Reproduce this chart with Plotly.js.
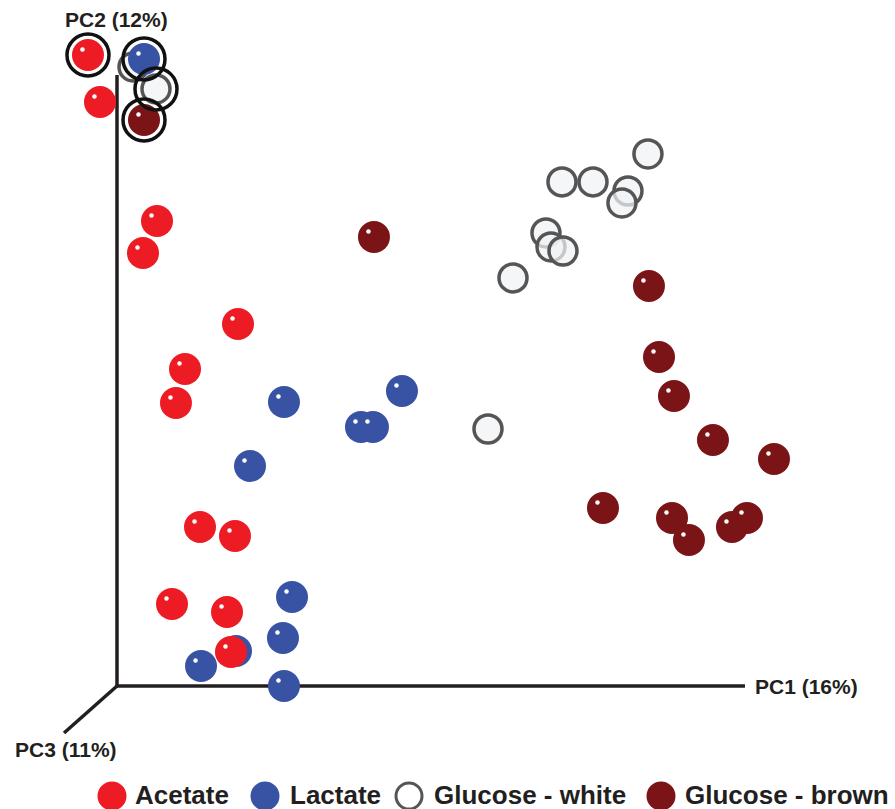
<!DOCTYPE html>
<html>
<head>
<meta charset="utf-8">
<script src="https://cdn.plot.ly/plotly-3.0.1.min.js"></script>
<style>html,body{margin:0;padding:0;background:#fff;}#chart{width:895px;height:809px;}</style>
</head>
<body>
<div id="chart"></div>
<script>
// ---- Data (PC1, PC2 scores; PC3 shown by perspective) ----
const groupNames = ["Acetate", "Lactate", "Glucose - white", "Glucose - brown"];

const acetatePC1 = [-4.62, -2.71, 6.37, 4.14, 19.27, 10.83, 9.39, 13.22, 18.79, 8.76, 17.52, 18.15];
const acetatePC2 = [103.27, 95.58, 76.10, 70.87, 59.25, 51.88, 46.32, 26.02, 24.55, 13.42, 12.11, 5.56];

const lactatePC1 = [4.30, 26.59, 45.38, 38.85, 40.76, 21.18, 27.87, 26.43, 18.95, 13.38, 26.59];
const lactatePC2 = [102.62, 46.48, 48.28, 42.39, 42.39, 36.01, 14.57, 7.86, 5.73, 3.27, 0.00];

const whitePC1 = [2.55, 6.21, 84.55, 70.86, 75.80, 81.37, 80.41, 68.31, 69.11, 71.02, 63.06, 59.08];
const whitePC2 = [101.31, 97.71, 87.07, 82.49, 82.49, 81.01, 79.05, 74.14, 71.85, 71.19, 66.78, 42.06];

const brownPC1 = [4.30, 40.92, 84.71, 86.31, 88.69, 94.90, 104.62, 77.39, 88.38, 91.08, 100.32, 97.93];
const brownPC2 = [92.64, 73.49, 65.47, 53.85, 47.46, 40.26, 37.15, 29.13, 27.50, 23.90, 27.50, 26.02];

// highlighted (circled) samples: index into each group
const ringAcetate = [0], ringLactate = [0], ringWhite = [1], ringBrown = [0];

const axisLabels = ["PC1 (16%)", "PC2 (12%)", "PC3 (11%)"];

// ---- Styling ----
const colors = ["#ED1C24", "#3953A4", "#EEF0F3", "#7B1416"];
const W = 895, H = 809;
const XR = [-18.63, 123.89], YR = [-20.13, 112.27];
const pxX = (W) / (XR[1] - XR[0]);
const pxY = (H) / (YR[1] - YR[0]);
const hlDx = -5.5 / pxX, hlDy = 5.5 / pxY;
const SZ = 32;

function sphere(x, y, color, name) {
  return {
    type: "scatter", mode: "markers", x: x, y: y, name: name, hoverinfo: "skip",
    marker: {size: SZ, color: color, line: {width: 0}}
  };
}
function highlight(x, y) {
  return {
    type: "scatter", mode: "markers", hoverinfo: "skip",
    x: x.map(v => v + hlDx), y: y.map(v => v + hlDy),
    marker: {size: 4.5, color: "#ffffff", line: {width: 0}}
  };
}

const traces = [];
traces.push({
  type: "scatter", mode: "markers", x: whitePC1, y: whitePC2, name: groupNames[2], hoverinfo: "skip",
  marker: {size: 28, color: "rgba(240,242,245,0.72)", line: {width: 3.5, color: "#555555"}}
});
traces.push(sphere(lactatePC1, lactatePC2, colors[1], groupNames[1]));
traces.push(highlight(lactatePC1, lactatePC2));
traces.push(sphere(acetatePC1, acetatePC2, colors[0], groupNames[0]));
traces.push(highlight(acetatePC1, acetatePC2));
traces.push(sphere(brownPC1, brownPC2, colors[3], groupNames[3]));
traces.push(highlight(brownPC1, brownPC2));

const ringX = [].concat(ringAcetate.map(i => acetatePC1[i]), ringLactate.map(i => lactatePC1[i]),
                        ringWhite.map(i => whitePC1[i]), ringBrown.map(i => brownPC1[i]));
const ringY = [].concat(ringAcetate.map(i => acetatePC2[i]), ringLactate.map(i => lactatePC2[i]),
                        ringWhite.map(i => whitePC2[i]), ringBrown.map(i => brownPC2[i]));
traces.push({
  type: "scatter", mode: "markers", x: ringX, y: ringY, hoverinfo: "skip",
  marker: {size: 42, color: "rgba(0,0,0,0)", line: {width: 3.5, color: "#111111"}}
});

const axColor = "#231F20";
const shapes = [
  {type: "line", xref: "x", yref: "y", x0: 0, y0: 0, x1: 0, y1: 100, layer: "below", line: {color: axColor, width: 3.5}},
  {type: "line", xref: "x", yref: "y", x0: 0, y0: 0, x1: 100, y1: 0, layer: "below", line: {color: axColor, width: 3.5}},
  {type: "line", xref: "x", yref: "y", x0: 0, y0: 0, x1: -8.44, y1: -7.69, layer: "below", line: {color: axColor, width: 3.5}}
];

const fontFam = "Liberation Sans, Arial, Helvetica, sans-serif";
const annotations = [
  {text: axisLabels[1], xref: "paper", yref: "paper", x: 63 / W, y: 1 - 20 / H, xanchor: "left", yanchor: "middle",
   showarrow: false, font: {family: fontFam, size: 21, color: axColor, weight: "bold"}},
  {text: axisLabels[0], xref: "paper", yref: "paper", x: 753 / W, y: 1 - 686 / H, xanchor: "left", yanchor: "middle",
   showarrow: false, font: {family: fontFam, size: 21, color: axColor, weight: "bold"}},
  {text: axisLabels[2], xref: "paper", yref: "paper", x: 13 / W, y: 1 - 749 / H, xanchor: "left", yanchor: "middle",
   showarrow: false, font: {family: fontFam, size: 21, color: axColor, weight: "bold"}}
];

// ---- Custom legend (bottom) ----
const legCX = [112, 265, 409, 661];
const legTX = [133, 288, 432, 683];
const legCY = 796, legR = 14.5;
groupNames.forEach((n, i) => {
  const white = i === 2;
  const r = white ? legR - 1.5 : legR;
  shapes.push({
    type: "circle", xref: "paper", yref: "paper",
    x0: (legCX[i] - r) / W, x1: (legCX[i] + r) / W,
    y0: 1 - (legCY + r) / H, y1: 1 - (legCY - r) / H,
    fillcolor: white ? "#ffffff" : colors[i],
    line: {width: white ? 3 : 0, color: "#555555"}
  });
  annotations.push({
    text: n, xref: "paper", yref: "paper", x: legTX[i] / W, y: 1 - 795 / H,
    xanchor: "left", yanchor: "middle", showarrow: false,
    font: {family: fontFam, size: 26, color: axColor, weight: "bold"}
  });
});

const layout = {
  width: W, height: H,
  margin: {l: 0, r: 0, t: 0, b: 0, pad: 0},
  paper_bgcolor: "#ffffff", plot_bgcolor: "#ffffff",
  showlegend: false,
  xaxis: {range: XR, visible: false, fixedrange: true},
  yaxis: {range: YR, visible: false, fixedrange: true},
  shapes: shapes, annotations: annotations
};

Plotly.newPlot("chart", traces, layout, {staticPlot: true, displayModeBar: false});
</script>
</body>
</html>
